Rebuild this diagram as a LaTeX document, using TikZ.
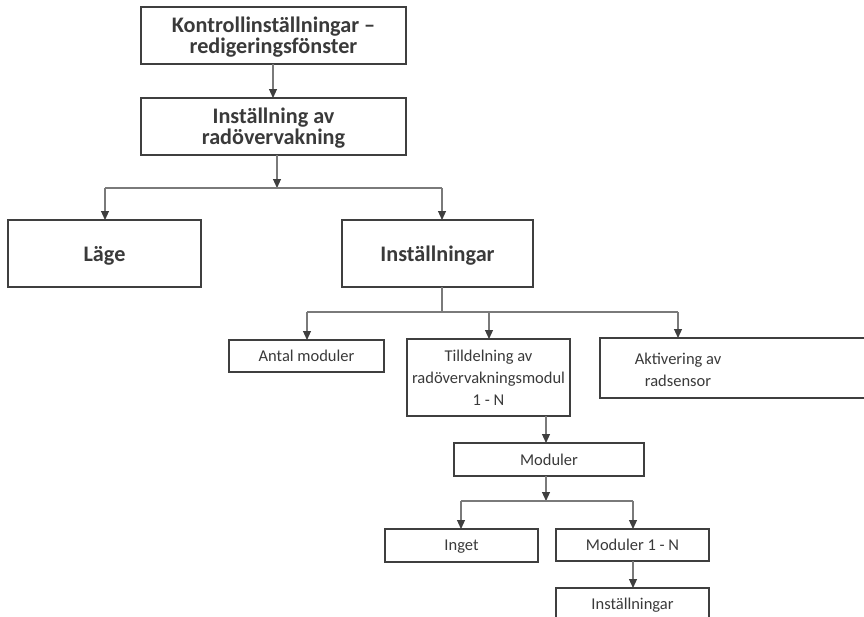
\documentclass[tikz,border=0pt]{standalone}
\usepackage{fontspec}
\setmainfont{Carlito}
\usetikzlibrary{arrows.meta}
\definecolor{txt}{HTML}{3A3A3A}
\definecolor{edge}{HTML}{3F3F3F}
\definecolor{wire}{HTML}{7A7A7A}
\tikzset{
  box/.style={draw=edge, line width=1.1pt, fill=white, text=txt, align=center,
    inner sep=0pt, outer sep=0pt, text depth=0pt},
  headbox/.style={box, font=\bfseries\fontsize{22.2}{21}\selectfont},
  plainbox/.style={box, font=\fontsize{16.5}{22}\selectfont},
  plaintext/.style={text=txt, align=center, inner sep=0pt, text depth=0pt,
    font=\fontsize{16.5}{22}\selectfont},
  wireline/.style={draw=wire, line width=1.1pt},
  arrowline/.style={wireline, -{Triangle[length=9pt,width=8pt,fill=edge,color=edge]}},
}
\begin{document}
\begin{tikzpicture}[x=1pt,y=-1pt]
\useasboundingbox (0,0) rectangle (864,616);

% boxes
\node[headbox, minimum width=265pt, minimum height=57pt] (k1) at (273.5,35.5)
  {Kontrollinställningar –\\redigeringsfönster};
\node[headbox, minimum width=265pt, minimum height=57pt] (k2) at (273.5,126.5)
  {Inställning av\\radövervakning};
\node[headbox, minimum width=193pt, minimum height=67pt] (lage) at (104.5,253.5) {Läge};
\node[headbox, minimum width=191pt, minimum height=67pt] (inst) at (437.5,253.5) {Inställningar};

\node[plainbox, minimum width=155pt, minimum height=32pt] (antal) at (306.5,356) {Antal moduler};
\node[plainbox, minimum width=163pt, minimum height=77pt] (till) at (488.5,377.5)
  {Tilldelning av\\radövervakningsmodul\\1 - N};
% this box runs past the right edge; its text sits under the incoming arrow
\node[box, minimum width=280pt, minimum height=60pt] (akt) at (740,368) {};
\node[plaintext] (aktlabel) at (678,370) {Aktivering av\\radsensor};
\node[plainbox, minimum width=190pt, minimum height=33pt] (mod) at (549,459.5) {Moduler};
\node[plainbox, minimum width=153pt, minimum height=33pt] (inget) at (461.5,545.5) {Inget};
\node[plainbox, minimum width=153pt, minimum height=32pt] (modn) at (632.5,545) {Moduler 1 - N};
\node[plainbox, minimum width=153pt, minimum height=32pt] (inst2) at (632.5,604) {Inställningar};

% junction points
\coordinate (j1) at (277,188);
\coordinate (j1l) at (105,188);
\coordinate (j1r) at (442,188);
\coordinate (j2) at (442,312);
\coordinate (j2l) at (307,312);
\coordinate (j2m) at (489,312);
\coordinate (j2r) at (678,312);
\coordinate (j3) at (546,501);
\coordinate (j3l) at (461,501);
\coordinate (j3r) at (633,501);

% connectors
\draw[arrowline] (k1.south -| 273,0) -- (k2.north -| 273,0);
\draw[arrowline] (k2.south -| j1) -- (j1);
\draw[wireline] (j1l) -- (j1r);
\draw[arrowline] (j1l) -- (lage.north -| j1l);
\draw[arrowline] (j1r) -- (inst.north -| j1r);

\draw[wireline] (inst.south -| j2) -- (j2);
\draw[wireline] (j2l) -- (j2r);
\draw[arrowline] (j2l) -- (antal.north -| j2l);
\draw[arrowline] (j2m) -- (till.north -| j2m);
\draw[arrowline] (j2r) -- (akt.north -| j2r);

\draw[arrowline] (till.south -| j3) -- (mod.north -| j3);
\draw[arrowline] (mod.south -| j3) -- (j3);
\draw[wireline] (j3l) -- (j3r);
\draw[arrowline] (j3l) -- (inget.north -| j3l);
\draw[arrowline] (j3r) -- (modn.north -| j3r);
\draw[arrowline] (modn.south -| j3r) -- (inst2.north -| j3r);
\end{tikzpicture}
\end{document}
